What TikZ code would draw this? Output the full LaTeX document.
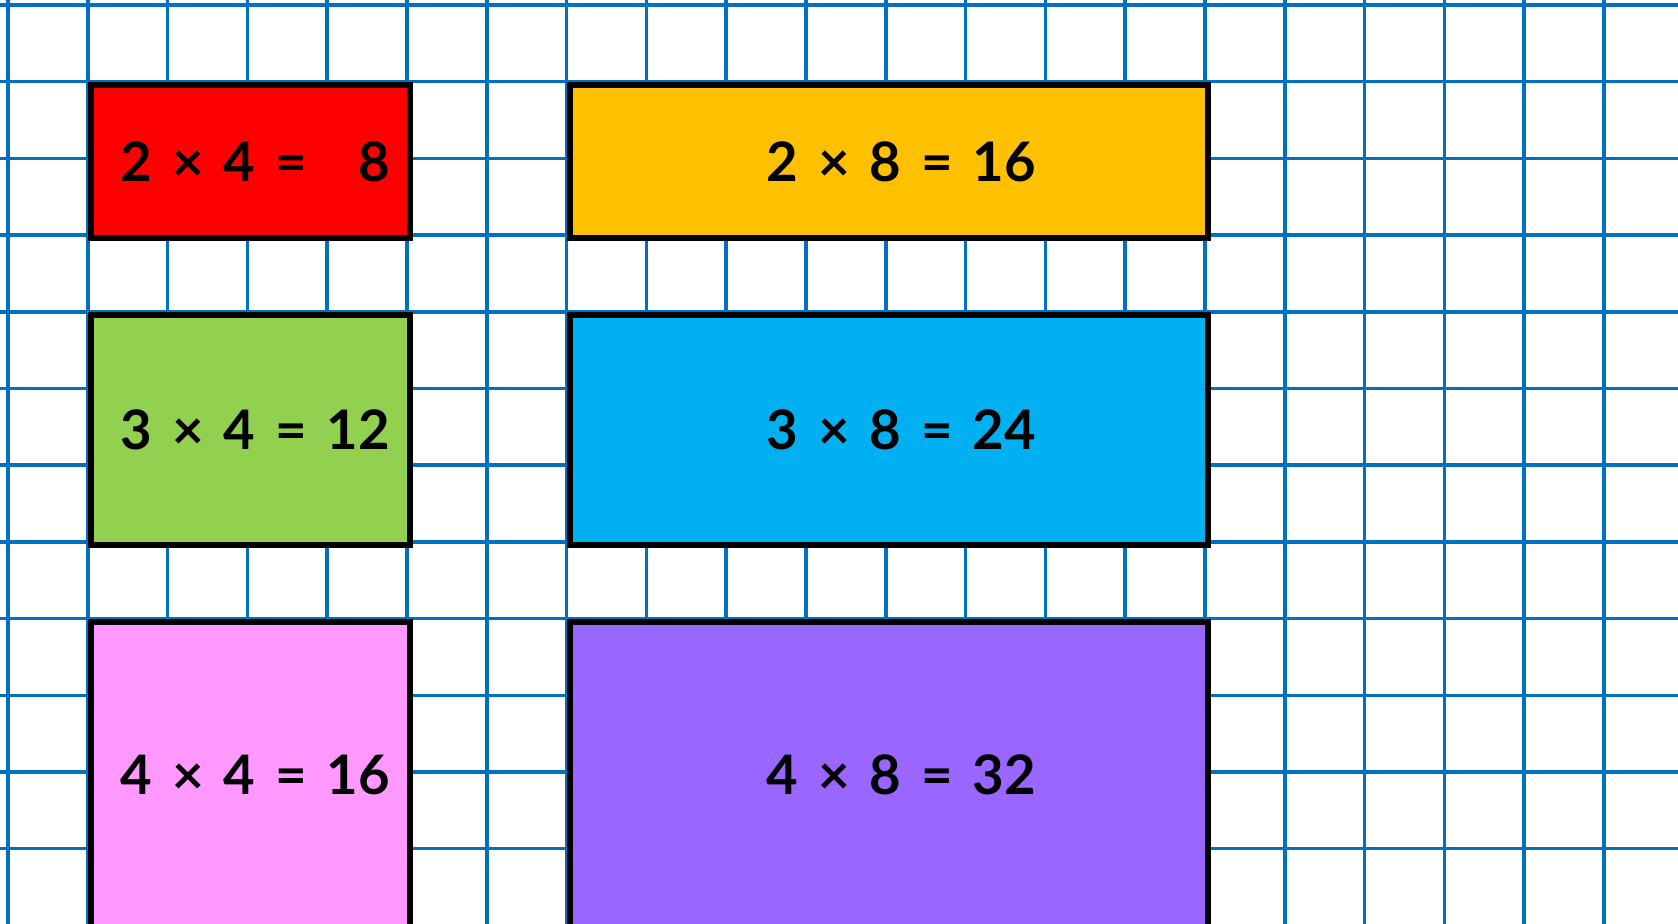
\documentclass[tikz,border=0pt]{standalone}
\usepackage{fontspec}
\setmainfont[WordSpace=1.5]{Lato}
\usetikzlibrary{positioning}
\definecolor{gridblue}{RGB}{0,112,192}
\definecolor{tabred}{RGB}{255,0,0}
\definecolor{taborange}{RGB}{255,192,0}
\definecolor{tabgreen}{RGB}{146,208,80}
\definecolor{tabblue}{RGB}{0,176,240}
\definecolor{tabpink}{RGB}{255,153,255}
\definecolor{tabpurple}{RGB}{153,102,255}

\begin{document}
\begin{tikzpicture}[x=1.596cm, y=-1.534cm]
\tikzstyle{gridline} = [draw=gridblue, line width=2pt]
\tikzstyle{tablebox} = [rectangle, anchor=north west, draw=black, line width=3.4pt, text centered, inner sep=0pt, font=\fontsize{31}{36}\selectfont\bfseries]
\tikzstyle{narrow} = [minimum width=6.384cm]
\tikzstyle{wide} = [minimum width=12.768cm]

\useasboundingbox (-0.1003,-0.065) rectangle (20.927,11.98);
\fill[white] (-0.1003,-0.065) rectangle (20.927,11.98);
\foreach \i in {0,...,20} \draw[gridline] (\i,-0.065) -- (\i,11.98);
\foreach \j in {0,...,12} \draw[gridline] (-0.1003,\j) -- (20.927,\j);

\node (twofour) [tablebox, narrow, minimum height=3.068cm, fill=tabred] at (1,1) {\hspace{0.2cm}2 × 4 = \phantom{1}8};
\node (twoeight) [tablebox, wide, minimum height=3.068cm, fill=taborange] at (7,1) {\hspace{0.5cm}2 × 8 = 16};
\node (threefour) [tablebox, narrow, minimum height=4.602cm, fill=tabgreen] at (1,4) {\hspace{0.2cm}3 × 4 = 12};
\node (threeeight) [tablebox, wide, minimum height=4.602cm, fill=tabblue] at (7,4) {\hspace{0.5cm}3 × 8 = 24};
\node (fourfour) [tablebox, narrow, minimum height=6.136cm, fill=tabpink] at (1,8) {\hspace{0.2cm}4 × 4 = 16};
\node (foureight) [tablebox, wide, minimum height=6.136cm, fill=tabpurple] at (7,8) {\hspace{0.5cm}4 × 8 = 32};
\end{tikzpicture}
\end{document}
